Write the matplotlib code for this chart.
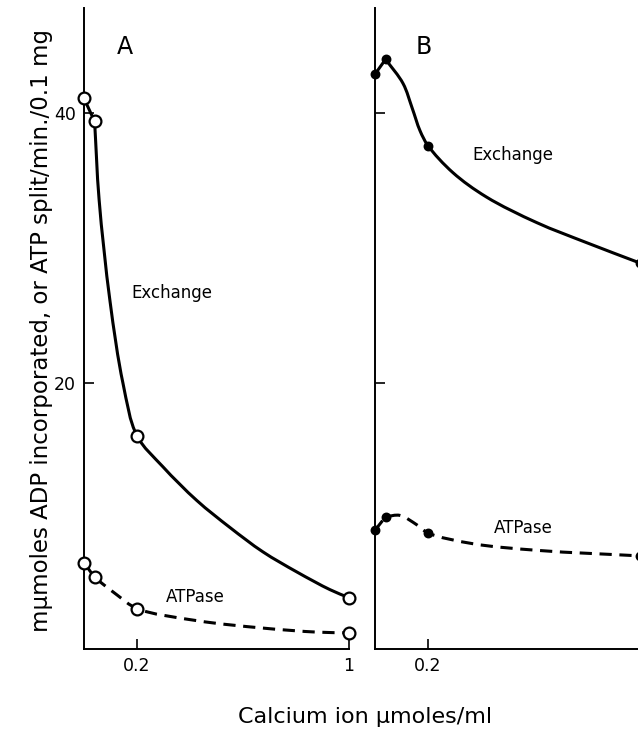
import matplotlib
matplotlib.use("Agg")
import numpy as np
import matplotlib.pyplot as plt
from matplotlib.path import Path
from matplotlib.patches import PathPatch

ca_a = [0.0, 0.04, 0.2, 1.0]
exch_a = [41.1, 39.4, 16.1, 4.1]
atpase_a = [6.7, 5.6, 3.3, 1.5]

ca_b = [0.0, 0.04, 0.2, 1.0]
exch_b = [42.9, 44.0, 37.6, 28.9]
atpase_b = [9.1, 10.1, 8.9, 7.2]

# hand drawn curves
exch_a_cx = [0.0, 0.04, 0.057, 0.098, 0.147, 0.2, 0.298, 0.426, 0.551, 0.675, 0.804, 0.928, 1.0]
exch_a_cy = [41.1, 39.4, 33.6, 26.1, 20.0, 16.1, 13.8, 11.3, 9.3, 7.5, 6.0, 4.7, 4.1]
atpase_a_cx = [0.0, 0.04, 0.125, 0.2, 0.426, 0.675, 0.88, 1.0]
atpase_a_cy = [6.7, 5.6, 4.3, 3.3, 2.4, 1.85, 1.55, 1.5]

exch_b_cx = [0.0, 0.04, 0.106, 0.14, 0.17, 0.2, 0.294, 0.42, 0.61, 0.8, 1.0]
exch_b_cy = [42.9, 44.0, 42.2, 40.4, 38.7, 37.6, 35.6, 33.8, 31.9, 30.4, 28.9]
atpase_b_cx = [0.0, 0.04, 0.094, 0.158, 0.2, 0.37, 0.62, 1.0]
atpase_b_cy = [9.1, 10.1, 10.2, 9.5, 8.9, 8.1, 7.6, 7.2]

xticks = [0.2, 1.0]
yticks = [20, 40]


def smooth_path(ax, xs, ys, alpha=0.5):
    # first step drawn straight, then catmull-rom -> cubic bezier in display space
    pts = ax.transData.transform(np.column_stack([xs, ys]))
    verts = [pts[0], pts[1]]
    codes = [Path.MOVETO, Path.LINETO]
    pts = pts[1:]
    n = len(pts)
    ext = np.vstack([2 * pts[0] - pts[1], pts, 2 * pts[-1] - pts[-2]])
    for i in range(n - 1):
        p0, p1, p2, p3 = ext[i], ext[i + 1], ext[i + 2], ext[i + 3]
        d0 = np.linalg.norm(p1 - p0) ** alpha
        d1 = np.linalg.norm(p2 - p1) ** alpha
        d2 = np.linalg.norm(p3 - p2) ** alpha
        m1 = ((p1 - p0) / d0 - (p2 - p0) / (d0 + d1) + (p2 - p1) / d1) * d1
        m2 = ((p2 - p1) / d1 - (p3 - p1) / (d1 + d2) + (p3 - p2) / d2) * d1
        verts += [p1 + m1 / 3, p2 - m2 / 3, p2]
        codes += [Path.CURVE4] * 3
    verts = ax.transData.inverted().transform(np.array(verts))
    return Path(verts, codes)


def draw_curve(ax, cx, cy, xs, ys, ls, filled):
    path = smooth_path(ax, cx, cy)
    ax.add_patch(PathPatch(path, fill=False, edgecolor="black", lw=2.2,
                           ls=ls, clip_on=False, capstyle="butt"))
    face = "black" if filled else "white"
    ms = 5.5 if filled else 8.5
    ax.plot(xs, ys, "o", ms=ms, mfc=face, mec="black", mew=1.6,
            clip_on=False, zorder=5)


fig = plt.figure(figsize=(6.38, 7.32), dpi=100)
ax_a = fig.add_axes([84 / 638, 83 / 732, 265 / 638, 641 / 732])
ax_b = fig.add_axes([375 / 638, 83 / 732, 265 / 638, 641 / 732])

for ax in (ax_a, ax_b):
    ax.set_xlim(0, 1)
    ax.set_ylim(0.3, 47.8)
    for s in ("top", "right"):
        ax.spines[s].set_visible(False)
    for s in ("left", "bottom"):
        ax.spines[s].set_linewidth(1.4)
    ax.tick_params(direction="in", length=7, width=1.2, labelsize=12.5, pad=6)
    ax.set_yticks(yticks)
    ax.set_xticks(xticks)

ax_a.set_xticklabels(["0.2", "1"])
ax_b.set_xticklabels(["0.2", ""])
ax_b.set_yticklabels([])

dash = (0, (4, 2.5))
draw_curve(ax_a, exch_a_cx, exch_a_cy, ca_a, exch_a, "-", False)
draw_curve(ax_a, atpase_a_cx, atpase_a_cy, ca_a, atpase_a, dash, False)
draw_curve(ax_b, exch_b_cx, exch_b_cy, ca_b, exch_b, "-", True)
draw_curve(ax_b, atpase_b_cx, atpase_b_cy, ca_b, atpase_b, dash, True)

ax_a.text(0.155, 44.9, "A", fontsize=17, ha="center", va="center")
ax_b.text(0.185, 44.9, "B", fontsize=17, ha="center", va="center")
ax_a.text(0.332, 26.7, "Exchange", fontsize=12, ha="center", va="center")
ax_b.text(0.521, 36.9, "Exchange", fontsize=12, ha="center", va="center")
ax_a.text(0.42, 4.15, "ATPase", fontsize=12, ha="center", va="center")
ax_b.text(0.56, 9.26, "ATPase", fontsize=12, ha="center", va="center")

fig.text(42 / 638, 1 - 330 / 732,
         "mμmoles ADP incorporated, or ATP split/min./0.1 mg",
         rotation=90, ha="center", va="center", fontsize=16.5)
fig.text(365 / 638, 1 - 717 / 732, "Calcium ion μmoles/ml",
         ha="center", va="center", fontsize=16)

fig.savefig("out.png", dpi=100)
